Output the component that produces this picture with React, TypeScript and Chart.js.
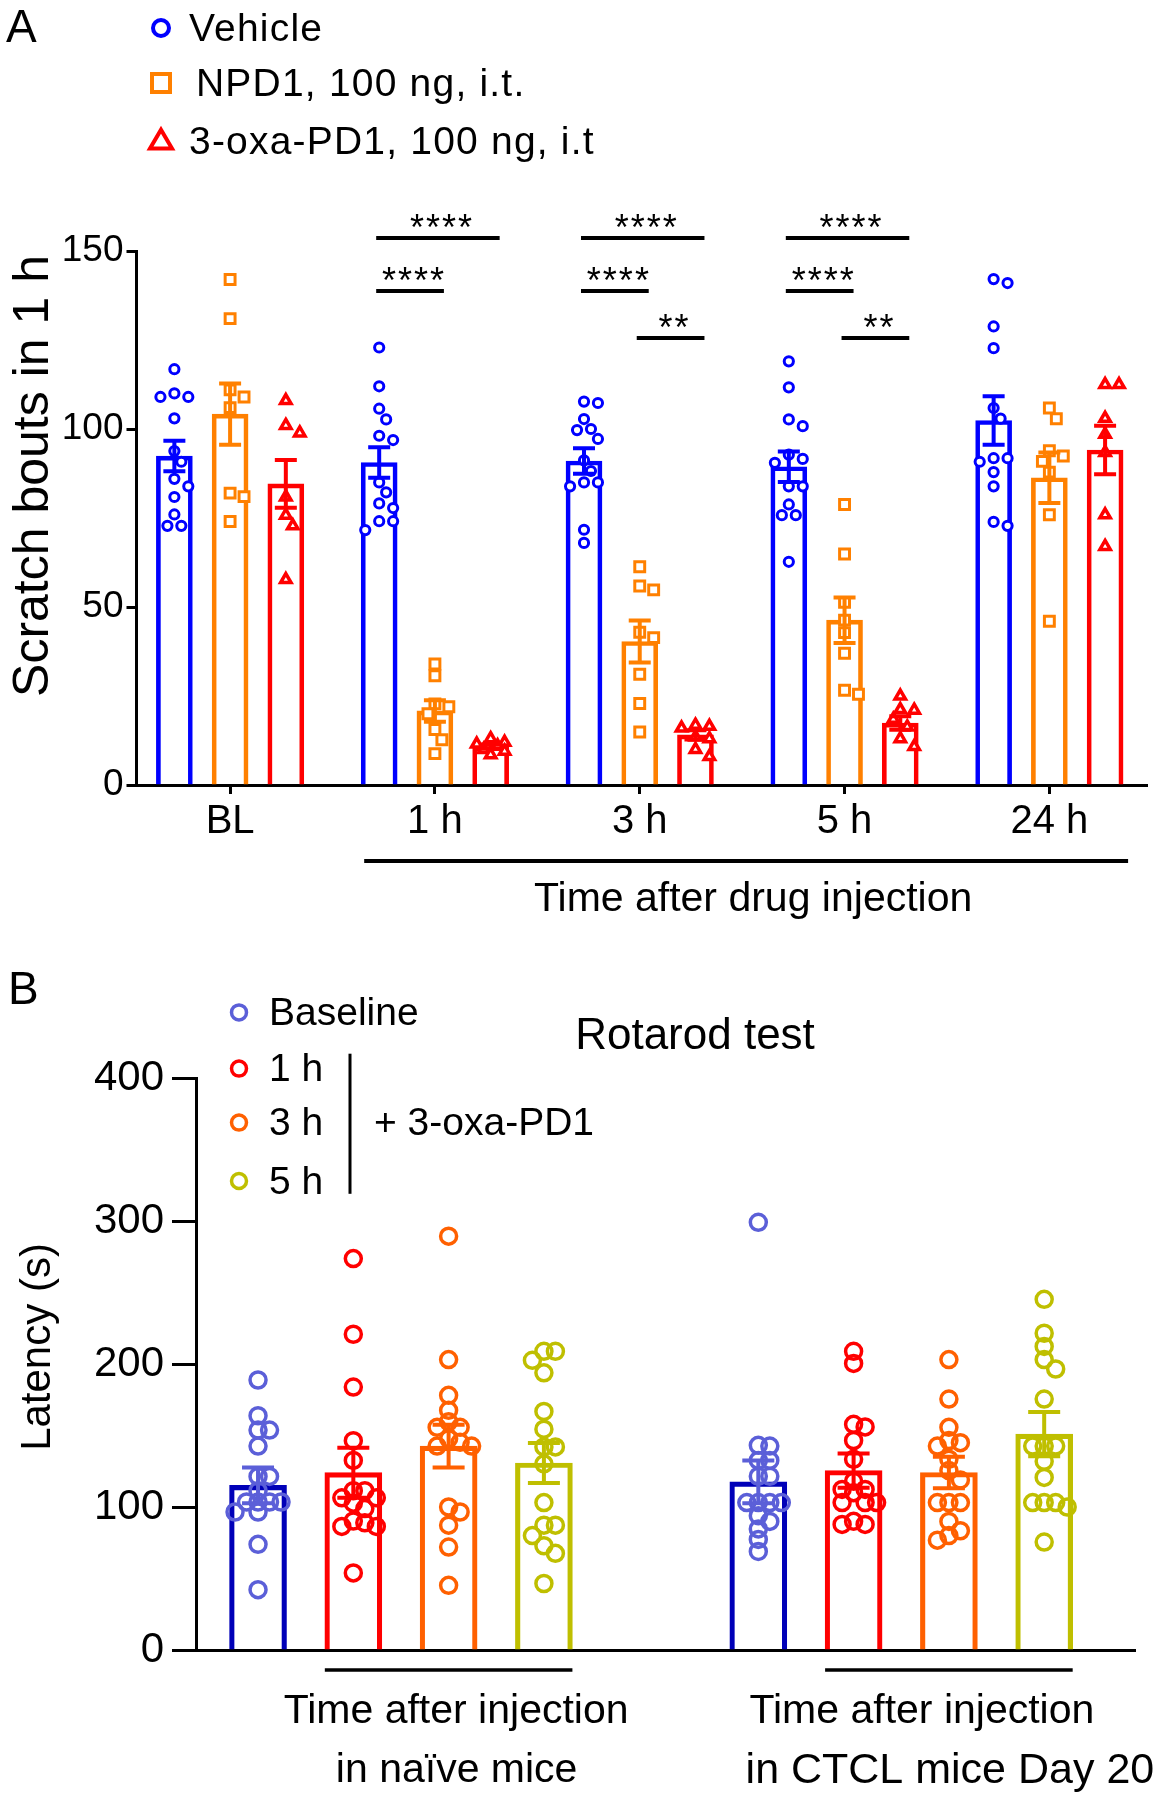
import React, { useEffect, useRef } from 'react';
import { Chart, registerables } from 'chart.js';

Chart.register(...registerables);

const FONT = "'Liberation Sans', Arial, Helvetica, sans-serif";

// ================= Panel A : scratch bouts =================
const timeLabelsA = ['BL', '1 h', '3 h', '5 h', '24 h'];
const seriesNamesA = ['Vehicle', 'NPD1, 100 ng, i.t.', '3-oxa-PD1, 100 ng, i.t'];
const yTitleA = 'Scratch bouts in 1 h';
const xTitleA = 'Time after drug injection';
const yTicksA = [0, 50, 100, 150];

const vehicleMean = [92.4, 90.6, 91.0, 89.4, 102.4];
const vehicleSem = [4.3, 4.3, 3.6, 4.3, 6.8];
const npd1Mean = [104.2, 20.8, 40.3, 46.3, 86.3];
const npd1Sem = [8.6, 3.0, 5.9, 6.4, 7.1];
const oxaMean = [84.6, 10.8, 14.1, 17.4, 94.1];
const oxaSem = [6.7, 0.6, 1.3, 1.9, 6.8];

const vehiclePoints = [
  [116.8, 110, 109, 109, 103, 93.8, 90.8, 86, 83.9, 80.9, 76, 72.8, 72.8],
  [122.9, 112, 105.7, 102.7, 98.1, 96.9, 85, 82.2, 79.1, 77.8, 74.1, 74.1, 71.6],
  [107.7, 107.3, 102.8, 100, 99.7, 97.2, 91.2, 88.2, 85, 85, 83.9, 71.7, 68],
  [119, 111.7, 102.7, 100.8, 92.8, 91.6, 90.5, 83.9, 83.9, 78.8, 75.8, 75.8, 62.7],
  [142.1, 141, 128.8, 122.7, 105.9, 102.9, 91.8, 91.8, 90.8, 87.9, 83.9, 73.9, 72.8],
];
const npd1Points = [
  [142, 131, 111, 109, 106, 82, 81, 74],
  [34, 30.7, 22.8, 22, 20, 15.6, 12.7, 8.8],
  [61.3, 55.9, 54.8, 42.9, 41.4, 31.1, 22.9, 14.9],
  [78.8, 64.9, 51.3, 46.3, 42.8, 37, 26.6, 25.5],
  [105.9, 102.9, 93.9, 92.4, 90.9, 87.9, 75.9, 46],
];
const oxaPoints = [
  [108, 101, 98.9, 80.9, 75.8, 72.8, 57.7],
  [13, 12, 11.5, 11, 10, 9.5, 8.5],
  [16.8, 16.5, 16, 13.5, 13, 10, 8],
  [25, 21.2, 21, 18.5, 16.3, 13, 10.8],
  [112.5, 112.5, 103, 98.5, 93.4, 75.9, 67],
];

const comparisonsA = [
  { group: 1, from: 0, to: 2, level: 0, stars: '****' },
  { group: 1, from: 0, to: 1, level: 1, stars: '****' },
  { group: 2, from: 0, to: 2, level: 0, stars: '****' },
  { group: 2, from: 0, to: 1, level: 1, stars: '****' },
  { group: 2, from: 1, to: 2, level: 2, stars: '**' },
  { group: 3, from: 0, to: 2, level: 0, stars: '****' },
  { group: 3, from: 0, to: 1, level: 1, stars: '****' },
  { group: 3, from: 1, to: 2, level: 2, stars: '**' },
];

// ================= Panel B : rotarod =================
const seriesNamesB = ['Baseline', '1 h', '3 h', '5 h'];
const legendNoteB = '+ 3-oxa-PD1';
const titleB = 'Rotarod test';
const yTitleB = 'Latency (s)';
const cohortTitlesB = [
  ['Time after injection', 'in naïve mice'],
  ['Time after injection', 'in CTCL mice Day 20'],
];

const baselineMeanB = [115.1, 117.6];
const baselineSemB = [12.5, 15];
const h1MeanB = [124.0, 125.5];
const h1SemB = [17.5, 12];
const h3MeanB = [142.6, 124.1];
const h3SemB = [15, 11];
const h5MeanB = [130.8, 151.0];
const h5SemB = [14, 15.5];

const baselinePointsB = [
  [188.8, 163.8, 153.8, 153.8, 142.6, 121.4, 121.4, 111.4, 103.5, 103.5, 103.5, 103.5, 96.5, 96.5, 73.9, 42.2],
  [299.1, 143.1, 142.6, 132.6, 132.6, 121.5, 121.5, 103.1, 103.1, 103.1, 103.1, 93.9, 89.9, 84.7, 77.3, 68.9],
];
const h1PointsB = [
  [273.7, 220.8, 183.9, 146.4, 132.6, 111.4, 111.4, 106.4, 106.4, 102.7, 98.9, 90.2, 88.9, 86.4, 86.4, 53.9],
  [208.9, 200.4, 157.8, 156, 146.5, 133.4, 118, 112.3, 112.3, 110, 103.1, 103.1, 103.1, 90, 87.8, 87.8],
];
const h3PointsB = [
  [289.4, 203.1, 178.1, 167.6, 159.7, 155.7, 155.7, 147.8, 145.2, 142.6, 142.6, 100, 96.5, 87.3, 72, 45.2],
  [203.1, 175.5, 155.7, 146.5, 145, 142.6, 133.4, 125.5, 118.9, 103.1, 103.1, 103.1, 89.9, 83.4, 80, 76.8],
];
const h5PointsB = [
  [208.9, 208.9, 202.6, 193.8, 166.8, 154.4, 142, 142, 130.2, 103.1, 87.3, 87.3, 80, 72.9, 67.6, 46.5],
  [245.2, 221.5, 212.3, 203.1, 196.5, 175.5, 142.6, 142.6, 142.6, 132, 120.7, 103.1, 103.1, 103.1, 100, 75.5],
];

// ================= styles / layout constants =================
const COLORS_A = ['#0000ff', '#ff8000', '#ff0000'];
const SHAPES_A = ['circle', 'rect', 'triangle'];
const RADII_A = [4.6, 7, 6];
const BW_A = [3, 3, 3.5];
const SLOT_A = 0.2721;
const X_MIN_A = -0.457;
const X_MAX_A = 4.4767;
const PX_X_A = 205.8;
const PX_Y_A = 3.559;
const SIG_OFFSETS = [-13, 40, 87];

const POINT_COLORS_B = ['#5b5fd8', '#ff0000', '#ff6000', '#bfbf00'];
const BAR_COLORS_B = ['#0000b8', '#ff0000', '#ff6000', '#bfbf00'];
const GROUP_GAP_B = 5.25;
const X_MIN_B = -0.651;
const X_MAX_B = 9.203;
const PX_X_B = 95.3;
const PX_Y_B = 1.43;

// deterministic bee-swarm layout (horizontal offsets so markers do not pile up)
function swarm(values: number[], pxPerX: number, pxPerY: number, diam: number, step: number, maxOff: number): number[] {
  const idx = values.map((_, i) => i).sort((a, b) => values[b] - values[a]);
  const placed: { x: number; y: number }[] = [];
  const out = values.map(() => 0);
  const cands: number[] = [0];
  for (let m = 1; m * step <= maxOff + 0.01; m++) cands.push(m * step, -m * step);
  for (const i of idx) {
    const y = values[i] * pxPerY;
    let chosen = 0;
    let best = -1;
    let found = false;
    for (const c of cands) {
      let minD = Infinity;
      for (const p of placed) minD = Math.min(minD, Math.hypot(p.x - c, p.y - y));
      if (minD >= diam) {
        chosen = c;
        found = true;
        break;
      }
      if (minD > best) {
        best = minD;
        chosen = c;
      }
    }
    if (!found && placed.length === 0) chosen = 0;
    placed.push({ x: chosen, y });
    out[i] = chosen / pxPerX;
  }
  return out;
}

function drawMarker(ctx: CanvasRenderingContext2D, shape: string, x: number, y: number, size: number, color: string, lw: number) {
  ctx.save();
  ctx.strokeStyle = color;
  ctx.lineWidth = lw;
  ctx.fillStyle = '#fff';
  ctx.beginPath();
  if (shape === 'circle') {
    ctx.arc(x, y, size, 0, Math.PI * 2);
  } else if (shape === 'rect') {
    ctx.rect(x - size, y - size, size * 2, size * 2);
  } else {
    const h = size * 1.7;
    ctx.moveTo(x, y - h * 0.6);
    ctx.lineTo(x + size, y + h * 0.4);
    ctx.lineTo(x - size, y + h * 0.4);
    ctx.closePath();
  }
  ctx.fill();
  ctx.stroke();
  ctx.restore();
}

function PanelA() {
  const ref = useRef<HTMLCanvasElement | null>(null);
  useEffect(() => {
    const canvas = ref.current;
    if (!canvas) return;
    const means = [vehicleMean, npd1Mean, oxaMean];
    const sems = [vehicleSem, npd1Sem, oxaSem];
    const points = [vehiclePoints, npd1Points, oxaPoints];
    const xOf = (g: number, s: number) => g + (s - 1) * SLOT_A;

    const bars = seriesNamesA.map((name, s) => ({
      type: 'bar',
      label: name,
      data: timeLabelsA.map((_, g) => ({ x: xOf(g, s), y: means[s][g] })),
      backgroundColor: 'rgba(255,255,255,0)',
      borderColor: COLORS_A[s],
      borderWidth: 4,
      borderSkipped: 'start',
      barThickness: 36,
      grouped: false,
      order: 3,
    }));
    const dots = seriesNamesA.map((name, s) => ({
      type: 'scatter',
      label: name + ' (each animal)',
      data: timeLabelsA.flatMap((_, g) => {
        const vals = points[s][g];
        const offs = swarm(vals, PX_X_A, PX_Y_A, 11.5, 7, 16);
        return vals.map((v, i) => ({ x: xOf(g, s) + offs[i], y: v }));
      }),
      pointStyle: SHAPES_A[s],
      pointRadius: RADII_A[s],
      pointBorderWidth: BW_A[s],
      pointBorderColor: COLORS_A[s],
      pointBackgroundColor: '#ffffff',
      order: 2,
    }));

    const decor = {
      id: 'decorA',
      afterDatasetsDraw(chart: any) {
        const { ctx, scales } = chart;
        const xs = scales.x;
        const ys = scales.y;
        ctx.save();
        ctx.lineWidth = 4;
        for (let s = 0; s < 3; s++) {
          ctx.strokeStyle = COLORS_A[s];
          for (let g = 0; g < timeLabelsA.length; g++) {
            const cx = xs.getPixelForValue(xOf(g, s));
            const top = ys.getPixelForValue(means[s][g] + sems[s][g]);
            const bot = ys.getPixelForValue(means[s][g] - sems[s][g]);
            ctx.beginPath();
            ctx.moveTo(cx, top);
            ctx.lineTo(cx, bot);
            ctx.moveTo(cx - 11, top);
            ctx.lineTo(cx + 11, top);
            ctx.moveTo(cx - 11, bot);
            ctx.lineTo(cx + 11, bot);
            ctx.stroke();
          }
        }
        ctx.restore();
      },
      afterDraw(chart: any) {
        const { ctx, scales, chartArea } = chart;
        const xs = scales.x;
        ctx.save();
        ctx.fillStyle = '#000';
        ctx.strokeStyle = '#000';
        ctx.textAlign = 'left';
        ctx.textBaseline = 'alphabetic';
        ctx.font = `46px ${FONT}`;
        ctx.fillText('A', 6, 42);

        // legend
        const legY = [28, 83, 141];
        const legTextX = [189, 196, 189];
        const sizes = [8, 9, 11];
        ctx.font = `39px ${FONT}`;
        ctx.textBaseline = 'middle';
        (ctx as any).letterSpacing = '1.2px';
        seriesNamesA.forEach((name, s) => {
          drawMarker(ctx, SHAPES_A[s], 161, legY[s], sizes[s], COLORS_A[s], 4);
          ctx.fillStyle = '#000';
          ctx.fillText(name, legTextX[s], legY[s] + 2);
        });

        // significance bars
        ctx.lineWidth = 4;
        ctx.font = `36px ${FONT}`;
        ctx.textAlign = 'center';
        ctx.textBaseline = 'alphabetic';
        (ctx as any).letterSpacing = '2px';
        comparisonsA.forEach((c) => {
          const x1 = xs.getPixelForValue(xOf(c.group, c.from)) - 3;
          const x2 = xs.getPixelForValue(xOf(c.group, c.to)) + 9;
          const ly = chartArea.top + SIG_OFFSETS[c.level];
          ctx.beginPath();
          ctx.moveTo(x1, ly);
          ctx.lineTo(x2, ly);
          ctx.stroke();
          ctx.fillText(c.stars, (x1 + x2) / 2 + 4, ly + 2);
        });
        (ctx as any).letterSpacing = '0px';

        // x title with underline
        const u1 = xs.getPixelForValue(xOf(1, 0)) - 15;
        const u2 = xs.getPixelForValue(xOf(4, 2)) + 23;
        ctx.beginPath();
        ctx.moveTo(u1, 861);
        ctx.lineTo(u2, 861);
        ctx.stroke();
        ctx.font = `41px ${FONT}`;
        ctx.textBaseline = 'middle';
        ctx.fillText(xTitleA, (u1 + u2) / 2 + 7, 900);

        // y title
        ctx.translate(34, 476);
        ctx.rotate(-Math.PI / 2);
        ctx.font = `50px ${FONT}`;
        ctx.fillText(yTitleA, 0, 0);
        ctx.restore();
      },
    };

    const chart = new Chart(canvas, {
      type: 'bar',
      data: { datasets: [...bars, ...dots] as any },
      options: {
        responsive: false,
        animation: false,
        layout: { padding: { top: 251, left: 0, right: 5, bottom: 95 } },
        plugins: { legend: { display: false }, tooltip: { enabled: false } },
        scales: {
          x: {
            type: 'linear',
            offset: false,
            min: X_MIN_A,
            max: X_MAX_A,
            afterBuildTicks: (scale: any) => {
              scale.ticks = timeLabelsA.map((_, i) => ({ value: i }));
            },
            afterFit: (scale: any) => {
              scale.height = 60;
            },
            ticks: {
              autoSkip: false,
              maxRotation: 0,
              padding: 4,
              color: '#000',
              font: { family: FONT, size: 40 },
              callback: (v: any) => timeLabelsA[Math.round(Number(v))] ?? '',
            },
            grid: { offset: false, drawOnChartArea: false, drawTicks: true, tickLength: 9, tickWidth: 3, tickColor: '#000' },
            border: { display: true, color: '#000', width: 3 },
          },
          y: {
            type: 'linear',
            min: 0,
            max: 150,
            afterBuildTicks: (scale: any) => {
              scale.ticks = yTicksA.map((v) => ({ value: v }));
            },
            afterFit: (scale: any) => {
              scale.width = 136.5;
            },
            ticks: { padding: 3, color: '#000', font: { family: FONT, size: 37 } },
            grid: { drawOnChartArea: false, drawTicks: true, tickLength: 10, tickWidth: 3, tickColor: '#000' },
            border: { display: true, color: '#000', width: 3 },
          },
        },
      } as any,
      plugins: [decor as any],
    });
    return () => chart.destroy();
  }, []);
  return (
    <canvas
      ref={ref}
      width={1157}
      height={940}
      style={{ position: 'absolute', left: 0, top: 0, width: 1157, height: 940 }}
    />
  );
}

function PanelB() {
  const ref = useRef<HTMLCanvasElement | null>(null);
  useEffect(() => {
    const canvas = ref.current;
    if (!canvas) return;
    const means = [baselineMeanB, h1MeanB, h3MeanB, h5MeanB];
    const sems = [baselineSemB, h1SemB, h3SemB, h5SemB];
    const points = [baselinePointsB, h1PointsB, h3PointsB, h5PointsB];
    const xOf = (g: number, s: number) => g * GROUP_GAP_B + s;

    const bars = seriesNamesB.map((name, s) => ({
      type: 'bar',
      label: name,
      data: cohortTitlesB.map((_, g) => ({ x: xOf(g, s), y: means[s][g] })),
      backgroundColor: 'rgba(255,255,255,0)',
      borderColor: BAR_COLORS_B[s],
      borderWidth: 4.5,
      borderSkipped: 'start',
      barThickness: 57,
      grouped: false,
      order: 3,
    }));
    const dots = seriesNamesB.map((name, s) => ({
      type: 'scatter',
      label: name + ' (each animal)',
      data: cohortTitlesB.flatMap((_, g) => {
        const vals = points[s][g];
        const offs = swarm(vals, PX_X_B, PX_Y_B, 10.5, 11.5, 26);
        return vals.map((v, i) => ({ x: xOf(g, s) + offs[i], y: v }));
      }),
      pointStyle: 'circle',
      pointRadius: 8,
      pointBorderWidth: 3.5,
      pointBorderColor: POINT_COLORS_B[s],
      pointBackgroundColor: 'rgba(255,255,255,0)',
      order: 2,
    }));

    const decor = {
      id: 'decorB',
      afterDatasetsDraw(chart: any) {
        const { ctx, scales } = chart;
        const xs = scales.x;
        const ys = scales.y;
        ctx.save();
        ctx.lineWidth = 4;
        for (let s = 0; s < 4; s++) {
          ctx.strokeStyle = POINT_COLORS_B[s];
          for (let g = 0; g < cohortTitlesB.length; g++) {
            const cx = xs.getPixelForValue(xOf(g, s));
            const top = ys.getPixelForValue(means[s][g] + sems[s][g]);
            const bot = ys.getPixelForValue(means[s][g] - sems[s][g]);
            ctx.beginPath();
            ctx.moveTo(cx, top);
            ctx.lineTo(cx, bot);
            ctx.moveTo(cx - 16, top);
            ctx.lineTo(cx + 16, top);
            ctx.moveTo(cx - 16, bot);
            ctx.lineTo(cx + 16, bot);
            ctx.stroke();
          }
        }
        ctx.restore();
      },
      afterDraw(chart: any) {
        const { ctx, scales } = chart;
        const xs = scales.x;
        ctx.save();
        ctx.fillStyle = '#000';
        ctx.strokeStyle = '#000';
        ctx.textAlign = 'left';
        ctx.textBaseline = 'alphabetic';
        ctx.font = `46px ${FONT}`;
        ctx.fillText('B', 8, 64);

        // legend
        const legY = [72.4, 128.6, 182.6, 241];
        ctx.font = `39px ${FONT}`;
        ctx.textBaseline = 'middle';
        seriesNamesB.forEach((name, s) => {
          drawMarker(ctx, 'circle', 239, legY[s], 7.5, POINT_COLORS_B[s], 3.5);
          ctx.fillStyle = '#000';
          ctx.fillText(name, 269, legY[s] + 2);
        });
        ctx.lineWidth = 3;
        ctx.beginPath();
        ctx.moveTo(350, 113.7);
        ctx.lineTo(350, 253.8);
        ctx.stroke();
        ctx.fillText(legendNoteB, 374, 184.6);

        // title
        ctx.font = `44px ${FONT}`;
        ctx.textAlign = 'center';
        ctx.fillText(titleB, 695, 97);

        // cohort underlines and titles
        const lineCenters: number[] = [];
        ctx.lineWidth = 3.5;
        cohortTitlesB.forEach((_, g) => {
          const u1 = xs.getPixelForValue(xOf(g, 1)) - 28.5;
          const u2 = xs.getPixelForValue(xOf(g, 3)) + 28.5;
          lineCenters.push((u1 + u2) / 2);
          ctx.beginPath();
          ctx.moveTo(u1, 730);
          ctx.lineTo(u2, 730);
          ctx.stroke();
        });
        const lineShift = [
          [7.5, 8],
          [-27, 1],
        ];
        const lineFont = [
          [41, 41],
          [41, 43],
        ];
        cohortTitlesB.forEach((lines, g) => {
          lines.forEach((t, li) => {
            ctx.font = `${lineFont[g][li]}px ${FONT}`;
            ctx.fillText(t, lineCenters[g] + lineShift[g][li], 772 + li * 59);
          });
        });

        // y title
        ctx.translate(38, 407);
        ctx.rotate(-Math.PI / 2);
        ctx.font = `42px ${FONT}`;
        ctx.fillText(yTitleB, 0, 0);
        ctx.restore();
      },
    };

    const chart = new Chart(canvas, {
      type: 'bar',
      data: { datasets: [...bars, ...dots] as any },
      options: {
        responsive: false,
        animation: false,
        layout: { padding: { top: 138, left: 0, right: 22, bottom: 146 } },
        plugins: { legend: { display: false }, tooltip: { enabled: false } },
        scales: {
          x: {
            type: 'linear',
            offset: false,
            min: X_MIN_B,
            max: X_MAX_B,
            afterFit: (scale: any) => {
              scale.height = 4;
            },
            ticks: { display: false },
            grid: { offset: false, drawOnChartArea: false, drawTicks: false },
            border: { display: true, color: '#000', width: 3 },
          },
          y: {
            type: 'linear',
            min: 0,
            max: 400,
            afterFit: (scale: any) => {
              scale.width = 196;
            },
            ticks: { stepSize: 100, padding: 8, color: '#000', font: { family: FONT, size: 42 } },
            grid: { drawOnChartArea: false, drawTicks: true, tickLength: 24, tickWidth: 3, tickColor: '#000' },
            border: { display: true, color: '#000', width: 3 },
          },
        },
      } as any,
      plugins: [decor as any],
    });
    return () => chart.destroy();
  }, []);
  return (
    <canvas
      ref={ref}
      width={1157}
      height={860}
      style={{ position: 'absolute', left: 0, top: 940, width: 1157, height: 860 }}
    />
  );
}

export default function App() {
  return (
    <div style={{ position: 'absolute', left: 0, top: 0, width: 1157, height: 1800, background: '#ffffff', overflow: 'hidden' }}>
      <PanelA />
      <PanelB />
    </div>
  );
}
